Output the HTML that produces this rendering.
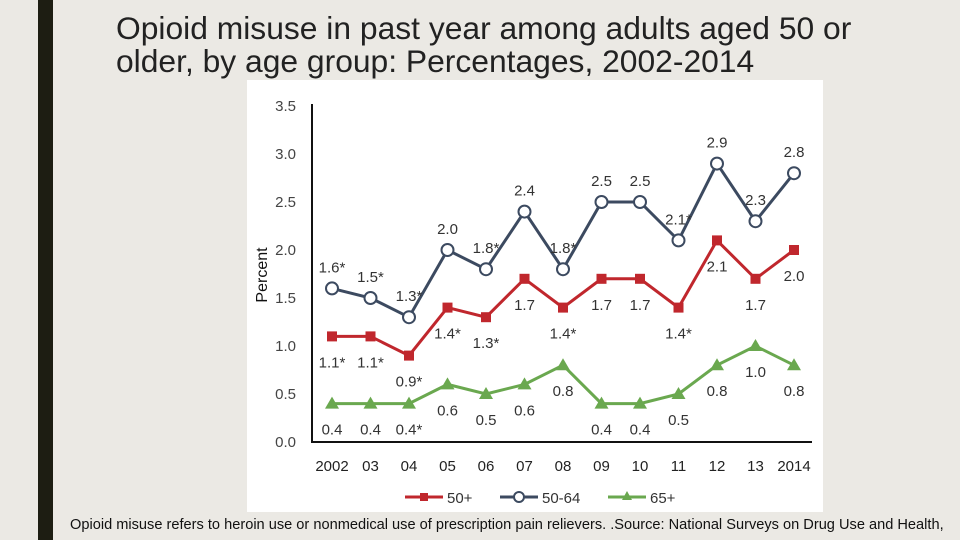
<!DOCTYPE html>
<html style="width:960px;height:540px;overflow:hidden"><head><meta charset="utf-8"><style>
body{margin:0;width:960px;height:540px;background:#ebe9e4;overflow:hidden;position:relative;font-family:"Liberation Sans",sans-serif}
#bar{position:absolute;left:38px;top:0;width:15px;height:540px;background:#1d1d12}
#title{position:absolute;left:116px;top:12px;font-size:31.8px;line-height:33px;color:#222;white-space:nowrap}
#foot{position:absolute;left:70px;top:514px;width:890px;height:26px;overflow:hidden;font-size:14.6px;line-height:22px;color:#111}
svg{position:absolute;left:0;top:0}
</style></head><body>
<div id="bar"></div>
<div id="title">Opioid misuse in past year among adults aged 50 or<br>older, by age group: Percentages, 2002-2014</div>
<svg id="chart" width="960" height="540"></svg>
<div id="foot">Opioid misuse refers to heroin use or nonmedical use of prescription pain relievers. .Source: National Surveys on Drug Use and Health, 2002-2014</div>
<script>
const years=["2002","03","04","05","06","07","08","09","10","11","12","13","2014"];
const s50plus=[1.1,1.1,0.9,1.4,1.3,1.7,1.4,1.7,1.7,1.4,2.1,1.7,2.0];
const s5064=[1.6,1.5,1.3,2.0,1.8,2.4,1.8,2.5,2.5,2.1,2.9,2.3,2.8];
const s65=[0.4,0.4,0.4,0.6,0.5,0.6,0.8,0.4,0.4,0.5,0.8,1.0,0.8];
const lab50plus=["1.1*","1.1*","0.9*","1.4*","1.3*","1.7","1.4*","1.7","1.7","1.4*","2.1","1.7","2.0"];
const lab5064=["1.6*","1.5*","1.3*","2.0","1.8*","2.4","1.8*","2.5","2.5","2.1*","2.9","2.3","2.8"];
const lab65=["0.4","0.4","0.4*","0.6","0.5","0.6","0.8","0.4","0.4","0.5","0.8","1.0","0.8"];
const yTicks=["0.0","0.5","1.0","1.5","2.0","2.5","3.0","3.5"];
const NS="http://www.w3.org/2000/svg";
const svg=document.getElementById('chart');
const X=i=>332+i*38.5, Y=v=>442-v*96;
function el(t,a,p){const e=document.createElementNS(NS,t);for(const k in a)e.setAttribute(k,a[k]);(p||svg).appendChild(e);return e;}
function txt(x,y,s,o){const e=el('text',Object.assign({x:x,y:y,'font-size':15,fill:'#333','text-anchor':'middle','font-family':'Liberation Sans, sans-serif'},o||{}));e.textContent=s;return e;}
const bg=el('rect',{x:247,y:80,width:576,height:432,fill:'#fff'});


yTicks.forEach(t=>{const e=txt(296,Y(+t)+5,t,{'text-anchor':'end',fill:'#444'});

});
const yt=txt(0,0,'Percent',{transform:'translate(267,275) rotate(-90)','font-size':16,fill:'#111'});


const ax=el('path',{d:'M312 104 V442 H812',stroke:'#111','stroke-width':2,fill:'none'});


years.forEach((y,i)=>{const e=txt(X(i),471,y,{fill:'#222'});

});
function series(vals,labs,color,mark,name,above){
 const g=el('g',{});
 
 
 el('polyline',{points:vals.map((v,i)=>X(i)+','+Y(v)).join(' '),stroke:color,'stroke-width':3,fill:'none'},g);
 vals.forEach((v,i)=>{let m;const x=X(i),y=Y(v);
  if(mark==='sq')m=el('rect',{x:x-5,y:y-5,width:10,height:10,fill:color},g);
  else if(mark==='c')m=el('circle',{cx:x,cy:y,r:6,fill:'#fff',stroke:color,'stroke-width':2},g);
  else m=el('polygon',{points:`${x},${y-7} ${x+7},${y+5} ${x-7},${y+5}`,fill:color},g);
  
  
  const l=txt(x,above?y-16:y+31,labs[i],{},g);
  
  
 });
}
series(s65,lab65,'#6aa84f','tri','65plus',false);
series(s50plus,lab50plus,'#c0272d','sq','50plus',false);
series(s5064,lab5064,'#3c4a60','c','50-64',true);
const lg=el('g',{});


[[405,'#c0272d','sq','50+'],[500,'#3c4a60','c','50-64'],[608,'#6aa84f','tri','65+']].forEach(([x,c,m,t])=>{
 el('line',{x1:x,y1:497,x2:x+38,y2:497,stroke:c,'stroke-width':3},lg);
 const cx=x+19;
 if(m==='sq')el('rect',{x:cx-4,y:493,width:8,height:8,fill:c},lg);
 else if(m==='c')el('circle',{cx:cx,cy:497,r:5,fill:'#fff',stroke:c,'stroke-width':2},lg);
 else el('polygon',{points:`${cx},491 ${cx+5},500 ${cx-5},500`,fill:c},lg);
 const e=txt(x+42,503,t,{'text-anchor':'start'},lg);
 
 
});
</script>
</body></html>
